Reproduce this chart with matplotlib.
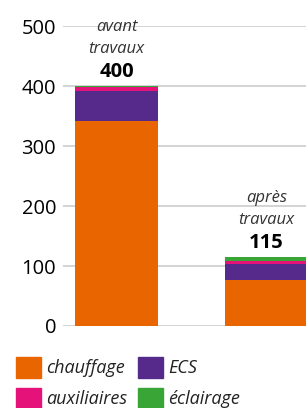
import numpy as np
import matplotlib.pyplot as plt
from matplotlib.patches import Rectangle

plt.rcParams['font.family'] = ['Open Sans', 'DejaVu Sans']

# data
bars = ['avant\ntravaux', 'après\ntravaux']
totals = [400, 115]
categories = ['chauffage', 'ECS', 'auxiliaires', 'éclairage']
chauffage = [342, 76]
ecs = [50, 28]
auxiliaires = [6, 5]
eclairage = [2, 6]
series = [chauffage, ecs, auxiliaires, eclairage]
colors = ['#E86500', '#552A8A', '#E5127A', '#3AA537']

fig = plt.figure(figsize=(3.06, 4.08), dpi=100)
ax = fig.add_axes([0.206, 0.201, 0.794, 0.735])

x = np.arange(len(bars))
bottom = np.zeros(len(bars))
for vals, c in zip(series, colors):
    ax.bar(x, vals, width=0.553, bottom=bottom, color=c, zorder=3)
    bottom += vals

ax.set_xlim(-0.357, 1.263)
ax.set_ylim(0, 500)
ax.set_yticks([0, 100, 200, 300, 400, 500])
ax.tick_params(axis='y', length=0, labelsize=14.5, pad=5, colors='black')
ax.set_xticks([])
ax.grid(axis='y', color='#cccccc', linewidth=1.2, zorder=0)
for s in ax.spines.values():
    s.set_visible(False)

for xi, lab, tot in zip(x, bars, totals):
    ax.annotate(str(tot), (xi, tot), xytext=(0, 3), textcoords='offset points',
                ha='center', va='bottom', fontsize=14.5, fontweight='bold',
                color='black')
    ax.annotate(lab, (xi, tot), xytext=(0, 21), textcoords='offset points',
                ha='center', va='bottom', fontsize=12, style='italic',
                color='#333333', linespacing=1.5)

# legend drawn by hand
pos = [(16, 357), (138, 357), (16, 388), (138, 388)]
W, H = 306.0, 408.0
for (px, py), name, c in zip(pos, categories, colors):
    fig.add_artist(Rectangle((px / W, 1 - (py + 21) / H), 25 / W, 21 / H,
                             transform=fig.transFigure, color=c))
    fig.text((px + 30) / W, 1 - (py + 11) / H, name, fontsize=13,
             style='italic', color='#222222', va='center', ha='left')

fig.savefig('out.png', dpi=100)
